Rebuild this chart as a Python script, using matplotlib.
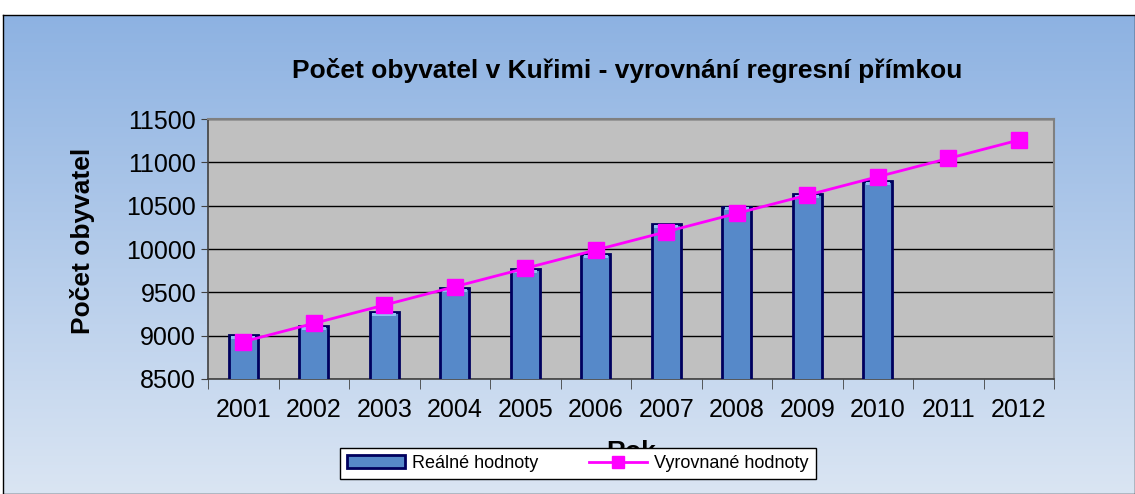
import numpy as np
import matplotlib
matplotlib.use("Agg")
from matplotlib import pyplot as plt
from matplotlib.patches import Patch, Rectangle
from matplotlib.lines import Line2D

# data
roky = ["2001", "2002", "2003", "2004", "2005", "2006",
        "2007", "2008", "2009", "2010", "2011", "2012"]
realne = [9010, 9110, 9275, 9545, 9765, 9940, 10290, 10490, 10635, 10780]
vyrovnane = [8930, 9142, 9353, 9565, 9777, 9988,
             10199, 10411, 10622, 10834, 11045, 11257]

plt.rcParams['font.family'] = ['Liberation Sans', 'DejaVu Sans']

fig = plt.figure(figsize=(11.35, 4.94), dpi=100)
fig.patch.set_facecolor('white')

# gradient background of the chart frame
bg = fig.add_axes([0.003, 0.0, 0.997, 0.97], zorder=-5)
top = np.array([141, 178, 226]) / 255
bot = np.array([218, 229, 243]) / 255
t = np.linspace(0, 1, 256)[:, None]
grad = top[None, :] * (1 - t) + bot[None, :] * t
bg.imshow(grad[:, None, :], aspect='auto', extent=[0, 1, 0, 1])
bg.set_xticks([])
bg.set_yticks([])
for s in bg.spines.values():
    s.set_color('black')
    s.set_linewidth(1)

ax = fig.add_axes([0.1833, 0.2328, 0.7454, 0.5263])
ax.set_facecolor('#C0C0C0')

x = np.arange(len(roky))
ax.bar(x[:len(realne)], realne, width=0.41, color='#5689C9',
       edgecolor='#00005E', linewidth=2, zorder=3)
# light bevel at the top of the bars
for xi, v in zip(x, realne):
    ax.add_patch(Rectangle((xi - 0.17, v - 45), 0.34, 35, facecolor='#8EC0F0',
                           edgecolor='none', zorder=4))
ax.plot(x, vyrovnane, color='#FF00FF', linewidth=2, marker='s',
        markersize=11, zorder=5)

ax.set_xlim(-0.5, len(roky) - 0.5)
ax.set_ylim(8500, 11500)
ax.set_yticks(np.arange(8500, 11501, 500))
ax.yaxis.grid(True, color='black', linewidth=1.0, zorder=0)
ax.set_axisbelow(True)

ax.set_xticks(x)
ax.set_xticklabels(roky)
ax.set_xticks(np.arange(-0.5, len(roky)), minor=True)
ax.tick_params(axis='x', which='major', length=0, labelsize=18, pad=14)
ax.tick_params(axis='x', which='minor', length=7, color='#404040', direction='out')
ax.tick_params(axis='y', length=5, labelsize=18, direction='out', color='#404040')

for s in ['top', 'right']:
    ax.spines[s].set_color('#808080')
    ax.spines[s].set_linewidth(1.5)
for s in ['left', 'bottom']:
    ax.spines[s].set_color('#404040')
    ax.spines[s].set_linewidth(1.2)

fig.text(0.553, 0.858, "Počet obyvatel v Kuřimi - vyrovnání regresní přímkou",
         ha='center', va='center', fontsize=19, fontweight='bold')
fig.text(0.073, 0.512, "Počet obyvatel", rotation=90, ha='center', va='center',
         fontsize=19, fontweight='bold')
fig.text(0.556, 0.085, "Rok", ha='center', va='center',
         fontsize=19, fontweight='bold')

handles = [Patch(facecolor='#5689C9', edgecolor='#00005E', linewidth=2),
           Line2D([0], [0], color='#FF00FF', linewidth=2, marker='s', markersize=8)]
leg = fig.legend(handles, ["Reálné hodnoty", "Vyrovnané hodnoty"], loc='center',
                 bbox_to_anchor=(0.509, 0.062), ncol=2, fontsize=13,
                 frameon=True, fancybox=False, edgecolor='black',
                 handlelength=3.2, handletextpad=0.4, columnspacing=2.8,
                 borderpad=0.4, borderaxespad=0)
leg.get_frame().set_linewidth(1)
leg.get_frame().set_facecolor('white')
leg.get_frame().set_alpha(1)

fig.savefig("out.png", dpi=100)
